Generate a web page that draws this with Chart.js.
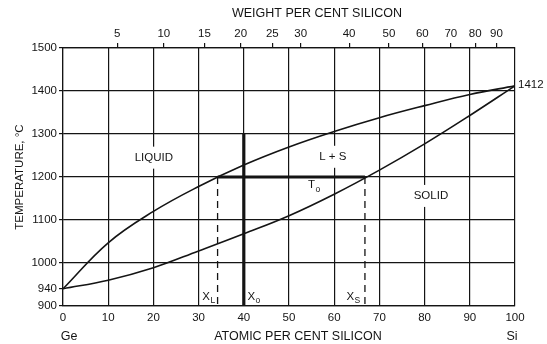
<!DOCTYPE html>
<html><head><meta charset="utf-8">
<script src="https://cdn.jsdelivr.net/npm/chart.js@4.4.0/dist/chart.umd.min.js"></script>
<style>html,body{margin:0;padding:0;background:#fff}#wrap{width:547px;height:344px;position:relative}</style>
</head><body><div id="wrap"><canvas id="c" width="547" height="344"></canvas></div>
<script>
// ---- data ----
const atomicTickLabels = [0,10,20,30,40,50,60,70,80,90,100];
const weightTickLabels = ['5','10','15','20','25','30','40','50','60','70','80','90'];
const weightTickAtomic = [12.0,22.3,31.3,39.3,46.3,52.6,63.3,72.1,79.5,85.8,91.2,95.9];
const tempTicks = [900,940,1000,1100,1200,1300,1400,1500];
const liquidusX = [0,10,20,30,40,50,60,70,80,90,100];
const liquidusT = [940,1047,1120,1178,1228,1270,1306,1338,1366,1392,1412];
const solidusX = [0,10,20,30,40,50,60,70,80,90,100];
const solidusT = [940,960,989,1028,1068,1110,1160,1216,1277,1343,1412];
const xL = 34.2, xO = 40, xS = 66.8, tO = 1200, tTop = 1300, tBottom = 900, tSi = 1412;

const INK = '#141414';
const FONT = '"Liberation Sans", Arial, sans-serif';
const pts = (xs, ys) => xs.map((x, i) => ({x, y: ys[i]}));

const labelPlugin = {
  id: 'labels',
  afterDatasetsDraw(chart) {
    const ctx = chart.ctx, xs = chart.scales.x, ys = chart.scales.y;
    ctx.save();
    ctx.fillStyle = INK;
    ctx.textBaseline = 'middle';
    const boxed = (txt, x, y) => {
      ctx.font = '11.5px ' + FONT;
      const px = xs.getPixelForValue(x), py = ys.getPixelForValue(y);
      const w = ctx.measureText(txt).width;
      ctx.fillStyle = '#fff';
      ctx.fillRect(px - w / 2 - 2, py - 11, w + 4, 22);
      ctx.fillStyle = INK;
      ctx.textAlign = 'center';
      ctx.fillText(txt, px, py);
    };
    boxed('LIQUID', 20.1, 1245);
    boxed('L + S', 59.7, 1247);
    boxed('SOLID', 81.4, 1156);
    const sub = (main, s, x, y) => {
      let px = xs.getPixelForValue(x), py = ys.getPixelForValue(y);
      ctx.textAlign = 'left';
      ctx.font = '11.5px ' + FONT;
      ctx.fillText(main, px, py);
      const w = ctx.measureText(main).width;
      ctx.font = '8.5px ' + FONT;
      ctx.fillText(s, px + w + 0.5, py + 4);
    };
    sub('T', 'o', 54.2, 1181);
    sub('X', 'L', 30.8, 921);
    sub('X', 'o', 40.8, 921);
    sub('X', 'S', 62.7, 921);
    // 1412 label at the Si end
    ctx.font = '11.5px ' + FONT;
    ctx.textAlign = 'left';
    ctx.fillText(String(tSi), xs.getPixelForValue(100) + 3, ys.getPixelForValue(tSi) - 1);
    // axis captions
    ctx.font = '12.5px ' + FONT;
    ctx.textAlign = 'center';
    ctx.fillText('WEIGHT PER CENT SILICON', 317, 14);
    ctx.fillText('ATOMIC PER CENT SILICON', 298, 337);
    ctx.fillText('Ge', 69, 337);
    ctx.fillText('Si', 512, 337);
    ctx.restore();
  }
};

const lineDs = (data, w, dash, smooth) => ({
  data, showLine: true, pointRadius: 0, borderColor: INK, borderWidth: w,
  borderDash: dash || [], fill: false, tension: smooth ? 0.4 : 0,
  cubicInterpolationMode: 'default'
});

new Chart(document.getElementById('c'), {
  type: 'scatter',
  data: {
    datasets: [
      lineDs(pts(liquidusX, liquidusT), 1.6, null, true),
      lineDs(pts(solidusX, solidusT), 1.6, null, true),
      lineDs([{x: xL, y: tO}, {x: xS, y: tO}], 3.2),
      lineDs([{x: xO, y: tBottom}, {x: xO, y: tTop}], 3.2),
      lineDs([{x: xL, y: tO}, {x: xL, y: tBottom}], 1.3, [7, 5]),
      lineDs([{x: xS, y: tO}, {x: xS, y: tBottom}], 1.3, [7, 5])
    ]
  },
  options: {
    responsive: false, animation: false, devicePixelRatio: 1,
    layout: {padding: {left: 0, top: 0, right: 32, bottom: 0}},
    plugins: {legend: {display: false}, tooltip: {enabled: false}},
    scales: {
      x: {
        type: 'linear', position: 'bottom', min: 0, max: 100,
        afterBuildTicks: s => { s.ticks = atomicTickLabels.map(v => ({value: v})); },
        ticks: {color: INK, font: {family: FONT, size: 11.5}, padding: 5, autoSkip: false, maxRotation: 0, callback: v => String(v)},
        grid: {color: INK, lineWidth: 1.2, drawTicks: false},
        border: {display: true, color: INK, width: 1.2},
        afterFit: s => { s.height = 38; }
      },
      xTop: {
        type: 'linear', position: 'top', min: 0, max: 100,
        afterBuildTicks: s => { s.ticks = weightTickAtomic.map(v => ({value: v})); },
        ticks: {color: INK, font: {family: FONT, size: 11.5}, padding: 2, autoSkip: false, maxRotation: 0,
          callback: (v, i) => weightTickLabels[i]},
        grid: {drawOnChartArea: false, drawTicks: true, tickLength: 5, color: INK, lineWidth: 1.2},
        border: {display: true, color: INK, width: 1.2},
        afterFit: s => { s.height = 48; }
      },
      y: {
        type: 'linear', position: 'left', min: 900, max: 1500,
        afterBuildTicks: s => { s.ticks = tempTicks.map(v => ({value: v})); },
        ticks: {color: INK, font: {family: FONT, size: 11.5}, padding: 2, autoSkip: false, callback: v => String(v)},
        grid: {color: c => (c.tick && c.tick.value === 940) ? 'rgba(0,0,0,0)' : INK, tickColor: INK, tickLength: 4, lineWidth: 1.2},
        border: {display: true, color: INK, width: 1.2},
        title: {display: true, text: 'TEMPERATURE, °C', color: INK, font: {family: FONT, size: 11.5}, padding: {top: 13, bottom: 0}},
        afterFit: s => { s.width = 63; }
      }
    }
  },
  plugins: [labelPlugin]
});
</script></body></html>
